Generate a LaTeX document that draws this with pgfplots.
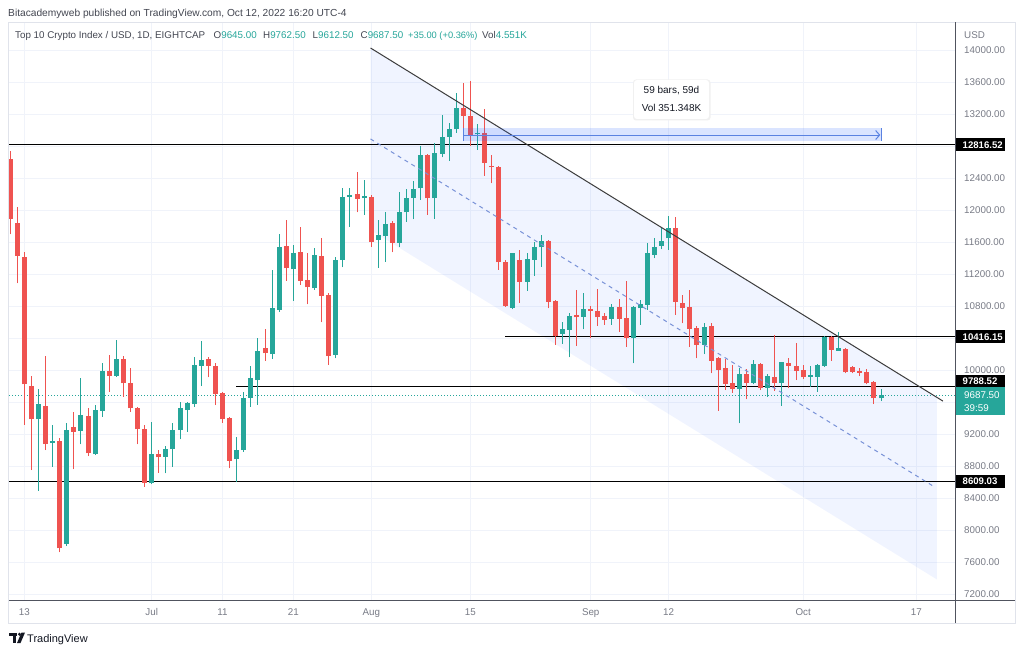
\documentclass[border=0pt]{standalone}
\usepackage{fontspec}
\setmainfont{Liberation Sans}
\usepackage{pgfplots}
\pgfplotsset{compat=1.18}
\usepackage{pgfplotstable}
\usetikzlibrary{arrows.meta}

\definecolor{tvgreen}{RGB}{38,166,154}
\definecolor{tvred}{RGB}{239,83,80}
\definecolor{gridc}{RGB}{240,243,250}
\definecolor{tvgray}{RGB}{120,123,134}
\definecolor{tvtext}{RGB}{67,70,81}
\definecolor{tvdark}{RGB}{19,23,34}
\definecolor{tvblue}{RGB}{41,98,255}
\definecolor{framec}{RGB}{224,227,235}
\definecolor{axisc}{RGB}{80,83,94}
\definecolor{dashc}{RGB}{120,145,215}
\definecolor{linec}{RGB}{60,60,60}
\definecolor{bandline}{RGB}{90,130,225}

% green candles: day index (0 = Jun 13), open, high, low, close
\pgfplotstableread{
d o h l c
2 9383 9758 8492 9571
4 9092 9313 8792 9113
6 7825 9333 7800 9250
8 9238 9896 9071 9433
10 8950 9563 8937 9500
11 9492 10092 9417 9992
13 9929 10375 9917 10142
18 8583 9354 8575 8950
20 8917 9050 8708 9008
21 9008 9333 8792 9250
22 9250 9596 9133 9521
23 9500 9604 9229 9583
24 9575 10167 9542 10063
25 10054 10362 9800 10125
30 8883 9158 8604 9000
31 9000 9729 8979 9654
32 9654 10054 9542 9896
33 9875 10396 9563 10238
35 10200 11250 10138 10771
36 10750 11700 10729 11533
38 11258 11563 10863 11467
41 11021 11521 11000 11438
44 10188 11417 10146 11375
45 11375 12271 11283 12167
46 12167 12271 11792 12188
48 12146 12375 11938 12175
50 11625 11875 11279 11688
51 11675 11979 11354 11825
53 11592 12229 11533 11979
54 11971 12258 11854 12154
55 12154 12367 11883 12263
56 12271 12800 12125 12688
58 12146 12842 11888 12708
59 12700 13188 12658 12917
60 12917 13083 12617 13017
61 13008 13467 12967 13271
64 12946 13075 12750 12967
69 10779 11467 10758 11458
71 11104 11467 10992 11383
72 11375 11604 11179 11533
73 11533 11688 11292 11617
76 10450 10604 10325 10508
77 10500 10717 10158 10679
79 10667 10967 10508 10763
83 10638 10825 10563 10792
86 10404 10804 10083 10783
87 10771 10875 10563 10825
88 10813 11583 10750 11458
89 11438 11646 11396 11542
90 11554 11792 11508 11617
91 11646 11925 11500 11771
96 10313 10583 10200 10542
101 9763 10021 9333 9950
103 9842 10125 9821 10071
105 9779 9950 9667 9925
107 9842 10104 9554 10096
111 9917 10054 9792 9942
112 9917 10071 9729 10063
113 10054 10425 10042 10417
115 10242 10479 10242 10271
121 9645 9762.5 9612.5 9687.5
}\greenc

% red candles
\pgfplotstableread{
d o h l c
-2 12633 12737 11696 11883
-1 11833 12042 11083 11429
0 11417 11479 9313 9821
1 9804 9925 8750 9383
3 9554 10175 9000 9075
5 9113 9154 7721 7771
7 9283 9479 8758 9229
9 9425 9521 8925 8958
12 9983 10188 9729 9929
14 10142 10175 9667 9833
15 9842 10021 9479 9521
16 9529 9542 9071 9258
17 9258 9313 8542 8592
19 8950 9000 8717 8908
26 10133 10167 9908 10054
27 10054 10092 9562 9696
28 9708 9721 9342 9383
29 9396 9417 8771 8867
34 10279 10513 10113 10208
37 11554 11875 11113 11271
39 11471 11783 11063 11113
40 11125 11458 10821 11033
42 11425 11654 10596 10929
43 10938 10958 10063 10175
47 12196 12471 11971 12138
49 12167 12188 11542 11604
52 11842 11867 11471 11592
57 12688 12696 11938 12146
62 13271 13592 12917 13175
63 13175 13612 12800 12938
65 12967 13258 12425 12592
66 12550 12688 12333 12533
67 12542 12550 11250 11346
68 11346 11375 10792 10804
70 11375 11500 10842 11104
74 11617 11625 10771 10854
75 10863 10875 10313 10429
78 10688 11000 10304 10658
80 10758 10800 10396 10738
81 10742 11008 10554 10658
82 10675 10708 10563 10625
84 10792 10883 10479 10638
85 10646 11113 10292 10404
92 11771 11917 10688 10854
93 10833 10938 10583 10771
94 10783 11000 10292 10513
95 10521 10550 10146 10313
97 10550 10592 9958 10117
98 10146 10167 9492 10000
99 10021 10133 9750 9825
100 9833 10063 9717 9763
102 9950 10008 9633 9842
104 10071 10083 9750 9771
106 9917 10438 9738 9842
108 10083 10146 9771 10050
109 10054 10333 9875 9992
110 10000 10063 9883 9908
114 10417 10425 10113 10250
116 10263 10271 9958 9971
117 10042 10050 9958 9979
118 9992 10021 9925 9967
119 9979 10008 9821 9833
120 9854 9863 9575 9646
}\redc

\newcommand{\lbl}{\fontsize{9.8}{11}\selectfont}
\newcommand{\blbl}{\fontsize{9.6}{11}\selectfont\bfseries}

\begin{document}
\begin{tikzpicture}
\fill[white] (0,0) rectangle (1024pt,654pt);
\useasboundingbox (0,0) rectangle (1024pt,654pt);

\begin{axis}[
  at={(9pt,54pt)}, anchor=south west,
  width=946.7pt, height=578pt, scale only axis,
  xmin=-2.161, xmax=131.55, ymin=7125, ymax=14350,
  scaled ticks=false,
  axis line style={draw=none},
  major tick length=0pt,
  xtick={0,18,28,38,49,63,80,91,110,126},
  xticklabels={13,Jul,11,21,Aug,15,Sep,12,Oct,17},
  ytick={7200,7600,8000,8400,8800,9200,9600,10000,10400,10800,11200,11600,12000,12400,12800,13200,13600,14000},
  yticklabels={7200.00,7600.00,8000.00,8400.00,8800.00,9200.00,{},10000.00,{},10800.00,11200.00,11600.00,12000.00,12400.00,{},13200.00,13600.00,14000.00},
  yticklabel pos=right,
  grid=major,
  major grid style={draw=gridc, line width=0.9pt},
  tick label style={font=\lbl, text=tvgray},
  xticklabel style={anchor=base, yshift=-15pt, inner sep=0pt},
  yticklabel style={anchor=west, inner sep=0pt, xshift=8.3pt},
  clip=true,
]
% parallel channel background
\addplot[draw=none, fill=tvblue, fill opacity=0.065, forget plot]
  coordinates {(48.9,14025) (128.9,9657) (128.9,7382) (48.9,11750)} -- cycle;

% horizontal levels
\addplot[black, line width=1pt, forget plot] coordinates {(-3,12816.52) (135,12816.52)};
\addplot[black, line width=1pt, forget plot] coordinates {(-3,8609.03) (135,8609.03)};
\addplot[black, line width=1pt, forget plot] coordinates {(67.9,10416.15) (135,10416.15)};
\addplot[black, line width=1pt, forget plot] coordinates {(29.9,9788.52) (135,9788.52)};
% last price line
\addplot[tvgreen, line width=0.9pt, dash pattern=on 1pt off 2pt, forget plot] coordinates {(-3,9687.5) (135,9687.5)};

% wicks
\addplot[draw=none, mark=none, forget plot,
  error bars/.cd, y dir=plus, y explicit, error mark=none,
  error bar style={draw=tvgreen, line width=1pt}]
  table[x=d, y=l, y error expr=\thisrow{h}-\thisrow{l}] {\greenc};
\addplot[draw=none, mark=none, forget plot,
  error bars/.cd, y dir=plus, y explicit, error mark=none,
  error bar style={draw=tvred, line width=1pt}]
  table[x=d, y=l, y error expr=\thisrow{h}-\thisrow{l}] {\redc};
% bodies
\addplot[draw=none, mark=none, forget plot,
  error bars/.cd, y dir=plus, y explicit, error mark=none,
  error bar style={draw=tvgreen, line width=5pt}]
  table[x=d, y=o, y error expr=\thisrow{c}-\thisrow{o}] {\greenc};
\addplot[draw=none, mark=none, forget plot,
  error bars/.cd, y dir=plus, y explicit, error mark=none,
  error bar style={draw=tvred, line width=5pt}]
  table[x=d, y=c, y error expr=\thisrow{o}-\thisrow{c}] {\redc};

% channel lines
\addplot[linec, line width=1pt, forget plot] coordinates {(48.9,14025) (129.75,9611)};
\addplot[dashc, line width=1pt, dash pattern=on 4pt off 4pt, forget plot] coordinates {(48.9,12888) (128.6,8536)};

% date and price range tool
\addplot[draw=none, fill=tvblue, fill opacity=0.17, forget plot]
  coordinates {(62,12862) (121,12862) (121,13021) (62,13021)} -- cycle;
\addplot[bandline, line width=1pt, forget plot] coordinates {(62,12862) (62,13021)};
\addplot[bandline, line width=1pt, forget plot] coordinates {(121,12862) (121,13021)};
\addplot[bandline, line width=1pt, -{Straight Barb[length=4pt,width=9pt]}, forget plot] coordinates {(62,12937) (120.9,12937)};
\end{axis}

% frame
\draw[framec, line width=0.8pt] (8pt,31pt) rectangle (1015pt,632pt);
\draw[axisc, line width=0.9pt] (9pt,54pt) -- (1015pt,54pt);
\draw[axisc, line width=0.9pt] (955.7pt,31pt) -- (955.7pt,632pt);

% header
\node[anchor=base west, inner sep=0pt, text=tvtext, font=\fontsize{10.2}{12}\selectfont] at (8pt,637pt)
  {Bitacademyweb published on TradingView.com, Oct 12, 2022 16:20 UTC-4};
\begin{scope}[every node/.style={anchor=base west, inner sep=0pt, font=\lbl}]
\node[text=tvtext] at (15pt,615.5pt) {Top 10 Crypto Index / USD, 1D, EIGHTCAP};
\node at (213.5pt,615.5pt) {\textcolor{tvtext}{O}\textcolor{tvgreen}{9645.00}};
\node at (263pt,615.5pt) {\textcolor{tvtext}{H}\textcolor{tvgreen}{9762.50}};
\node at (312.5pt,615.5pt) {\textcolor{tvtext}{L}\textcolor{tvgreen}{9612.50}};
\node at (360.5pt,615.5pt) {\textcolor{tvtext}{C}\textcolor{tvgreen}{9687.50}};
\node[font=\fontsize{9.3}{11}\selectfont] at (408pt,615.5pt) {\textcolor{tvgreen}{+35.00 (+0.36\%)}};
\node at (482pt,615.5pt) {\textcolor{tvtext}{Vol}\textcolor{tvgreen}{4.551K}};
\node[text=tvgray] at (964pt,615.5pt) {USD};
\end{scope}

% price labels
\fill[black] (955.7pt,502.8pt) rectangle (1005pt,515.8pt);
\node[anchor=west, inner sep=0pt, text=white, font=\blbl] at (962.5pt,509.3pt) {12816.52};
\fill[black] (955.7pt,310.8pt) rectangle (1005pt,323.8pt);
\node[anchor=west, inner sep=0pt, text=white, font=\blbl] at (962.5pt,317.3pt) {10416.15};
\fill[black] (955.7pt,267pt) rectangle (1005pt,279pt);
\node[anchor=west, inner sep=0pt, text=white, font=\blbl] at (962.5pt,273pt) {9788.52};
\fill[tvgreen] (955.7pt,239pt) rectangle (1005pt,267pt);
\node[anchor=west, inner sep=0pt, text=white, font=\lbl] at (964pt,258.5pt) {9687.50};
\node[anchor=west, inner sep=0pt, text=white, font=\lbl] at (964pt,245.5pt) {39:59};
\fill[black] (955.7pt,166.2pt) rectangle (1005pt,179.2pt);
\node[anchor=west, inner sep=0pt, text=white, font=\blbl] at (962.5pt,172.7pt) {8609.03};

% range tool label
\fill[black!6, rounded corners=3pt] (633pt,533.5pt) rectangle (710.5pt,574.5pt);
\fill[white, rounded corners=3pt] (634pt,535pt) rectangle (709pt,574pt);
\node[inner sep=0pt, text=tvdark, font=\fontsize{10}{12}\selectfont] at (671.5pt,563.3pt) {59 bars, 59d};
\node[inner sep=0pt, text=tvdark, font=\fontsize{10}{12}\selectfont] at (671.5pt,546pt) {Vol 351.348K};

% TradingView logo
\fill[tvdark] (9pt,18.5pt) rectangle (17pt,21.5pt);
\fill[tvdark] (12.5pt,11pt) rectangle (16pt,21.5pt);
\fill[tvdark] (19.5pt,19.8pt) circle (1.7pt);
\fill[tvdark] (21.5pt,21.5pt) -- (25pt,21.5pt) -- (20.5pt,11pt) -- (17pt,11pt) -- cycle;
\node[anchor=base west, inner sep=0pt, text=tvdark, font=\fontsize{11}{13}\selectfont] at (27pt,11.5pt) {TradingView};
\end{tikzpicture}
\end{document}
